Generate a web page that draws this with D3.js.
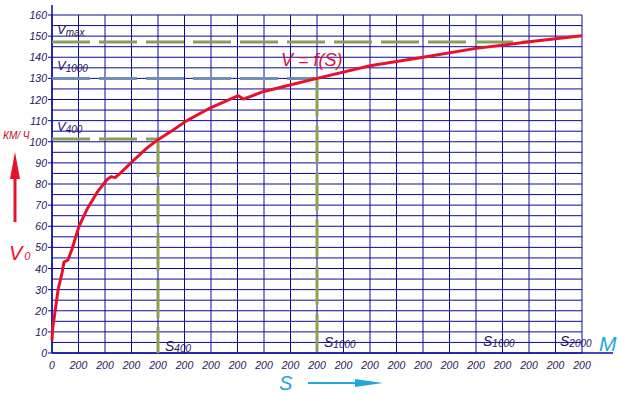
<!DOCTYPE html>
<html>
<head>
<meta charset="utf-8">
<script src="https://cdn.jsdelivr.net/npm/d3@7"></script>
<style>
  body { margin: 0; background: #fff; }
  text { font-family: "Liberation Sans", Arial, sans-serif; font-style: italic; }
</style>
</head>
<body>
<div id="chart"></div>
<script>
// curve V = f(S), distance in metres, speed in km/h
const distance = [0, 3, 11, 23, 38, 45, 60, 75, 102, 132, 170, 207, 223, 238, 257, 306, 358, 400, 457, 509, 600, 703, 722, 796, 898, 1000, 1200, 1400, 1600, 1800, 2000]
const speed = [6, 12, 19, 30, 38, 43, 44, 49, 60, 68, 76, 82, 83.5, 83, 85, 91, 97, 101, 105.6, 110, 116.2, 121.8, 120.2, 123.7, 126.9, 130, 136, 140, 144.2, 147.3, 150.2]

const yTicks = d3.range(0, 161, 10)
const xTickLabels = ['0'].concat(d3.range(20).map(() => '200'))

// reference marks: [label, sub, S, V]
const refSpeeds = [
  { sub: 'max', v: 147.2, s: 1800, color: '#8c9c60', vertical: false },
  { sub: '1000', v: 130, s: 1000, color: '#6f8fb8', vertical: true },
  { sub: '400', v: 101.3, s: 400, color: '#8aa050', vertical: true }
]
const sLabels = [
  { sub: '400', s: 400, dy: 0 },
  { sub: '1000', s: 1000, dy: -4 },
  { sub: '1600', s: 1600, dy: -5 },
  { sub: '2000', s: 2000, dy: -5 }
]

const width = 619
const height = 394
const svg = d3.select('#chart').append('svg')
  .attr('width', width)
  .attr('height', height)

const x = d3.scaleLinear().domain([0, 2000]).range([52, 582])
const y = d3.scaleLinear().domain([0, 160]).range([353, 15])

const grid = '#0a0aa0'
const red = '#e8102a'
const cyan = '#22a8d8'
const ink = '#2a1460'

// grid
svg.append('g').selectAll('line.v').data(d3.range(0, 2001, 100)).enter()
  .append('line')
  .attr('x1', d => x(d)).attr('x2', d => x(d))
  .attr('y1', y(160)).attr('y2', y(0))
  .attr('stroke', grid).attr('stroke-width', 1)
svg.append('g').selectAll('line.h').data(d3.range(0, 161, 5)).enter()
  .append('line')
  .attr('x1', x(0)).attr('x2', x(2000))
  .attr('y1', d => y(d)).attr('y2', d => y(d))
  .attr('stroke', grid).attr('stroke-width', 1)

// axes lines
svg.append('line').attr('x1', x(0)).attr('x2', x(0)).attr('y1', 5).attr('y2', y(0))
  .attr('stroke', grid).attr('stroke-width', 1.5)
svg.append('line').attr('x1', x(0)).attr('x2', 613).attr('y1', y(0)).attr('y2', y(0))
  .attr('stroke', grid).attr('stroke-width', 1.5)

// y ticks
svg.append('g').selectAll('line').data(yTicks).enter()
  .append('line')
  .attr('x1', x(0) - 4).attr('x2', x(0))
  .attr('y1', d => y(d)).attr('y2', d => y(d))
  .attr('stroke', grid)
svg.append('g').selectAll('text').data(yTicks).enter()
  .append('text')
  .attr('x', 47).attr('y', d => y(d) + 4)
  .attr('text-anchor', 'end')
  .attr('font-size', 10.5)
  .attr('fill', ink)
  .text(d => d)

// x tick labels
svg.append('g').selectAll('text').data(xTickLabels).enter()
  .append('text')
  .attr('x', (d, i) => x(i * 100))
  .attr('y', 369)
  .attr('text-anchor', 'middle')
  .attr('font-size', 10.5)
  .attr('fill', ink)
  .text(d => d)

// reference dashed lines
refSpeeds.forEach(r => {
  svg.append('line')
    .attr('x1', x(0)).attr('x2', x(r.s))
    .attr('y1', y(r.v)).attr('y2', y(r.v))
    .attr('stroke', r.color).attr('stroke-width', 3)
    .attr('stroke-dasharray', '38,9')
  if (r.vertical) {
    svg.append('line')
      .attr('x1', x(r.s)).attr('x2', x(r.s))
      .attr('y1', y(r.v)).attr('y2', y(0))
      .attr('stroke', '#8aa050').attr('stroke-width', 3)
      .attr('stroke-dasharray', '38,9')
  }
  const t = svg.append('text')
    .attr('x', 57).attr('y', y(r.v) - 8)
    .attr('fill', ink)
  t.append('tspan').attr('font-size', 13).text('V')
  t.append('tspan').attr('font-size', 10).attr('dy', 2).text(r.sub)
})

// S labels
sLabels.forEach(l => {
  const t = svg.append('text')
    .attr('x', x(l.s) + (l.s === 2000 ? -22 : 7))
    .attr('y', 351 + l.dy)
    .attr('fill', ink)
  t.append('tspan').attr('font-size', 14).text('S')
  t.append('tspan').attr('font-size', 10).attr('dy', 1).text(l.sub)
})

// curve
const line = d3.line()
  .x((d, i) => x(distance[i]))
  .y(d => y(d))
svg.append('path')
  .datum(speed)
  .attr('d', line)
  .attr('fill', 'none')
  .attr('stroke', red)
  .attr('stroke-width', 3)
  .attr('stroke-linejoin', 'round')

svg.append('text')
  .attr('x', 281).attr('y', 66)
  .attr('font-size', 18)
  .attr('fill', '#d8103a')
  .text('V = f(S)')

// y-axis caption
svg.append('text')
  .attr('x', 3).attr('y', 139)
  .attr('font-size', 10)
  .attr('fill', '#c00020')
  .text('КМ/ Ч')
svg.append('line')
  .attr('x1', 15).attr('x2', 15).attr('y1', 222).attr('y2', 175)
  .attr('stroke', red).attr('stroke-width', 3)
svg.append('path')
  .attr('d', d3.line()([[10, 179], [15, 152], [20, 179]]) + 'Z')
  .attr('fill', red)
const v0 = svg.append('text').attr('x', 9).attr('y', 260).attr('fill', red)
v0.append('tspan').attr('font-size', 20).text('V')
v0.append('tspan').attr('font-size', 11).attr('dx', 2).text('0')

// x-axis caption
svg.append('text')
  .attr('x', 279).attr('y', 390)
  .attr('font-size', 20)
  .attr('fill', cyan)
  .text('S')
svg.append('line')
  .attr('x1', 308).attr('x2', 362).attr('y1', 383).attr('y2', 383)
  .attr('stroke', cyan).attr('stroke-width', 2)
svg.append('path')
  .attr('d', d3.line()([[355, 379], [383, 383], [355, 387]]) + 'Z')
  .attr('fill', cyan)
svg.append('text')
  .attr('x', 599).attr('y', 351)
  .attr('font-size', 21)
  .attr('fill', cyan)
  .text('M')
</script>
</body>
</html>
